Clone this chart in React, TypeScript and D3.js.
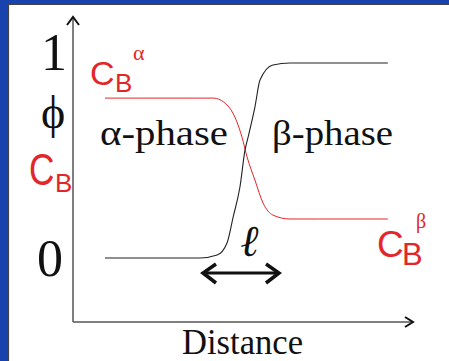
import React from "react";
import * as d3 from "d3";

// phase-field order parameter phi vs distance
const distancePhi = [9.4, 37.4, 42.4, 45.3, 47.1, 49.1, 50.6, 51.5, 53.5, 55.0, 58.8, 63.8, 92.6];
const phiValues = [0, 0, 0.015, 0.077, 0.21, 0.364, 0.554, 0.62, 0.774, 0.913, 0.99, 1, 1];
// concentration of B vs distance
const distanceC = [9.4, 38.2, 41.2, 45.3, 47.6, 49.7, 51.2, 53.5, 55.9, 58.8, 63.8, 72.6, 92.6];
const cBValues = [0.82, 0.82, 0.82, 0.785, 0.723, 0.62, 0.518, 0.4, 0.282, 0.22, 0.2, 0.2, 0.2];
const yTickValues = [1, 0];
const yTickLabels = ["1", "0"];
const xLabel = "Distance";

const W = 449;
const H = 361;
const SERIF = "'Liberation Serif', 'Times New Roman', serif";
const SANS = "'Liberation Sans', Arial, sans-serif";
const RED = "#e3262b";

export default function App() {
  const x = d3.scaleLinear().domain([0, 100]).range([73, 413]);
  const y = d3.scaleLinear().domain([0, 1]).range([258, 63]);
  const line = d3
    .line<[number, number]>()
    .x((d) => x(d[0]))
    .y((d) => y(d[1]))
    .curve(d3.curveMonotoneX);
  const phiPts = distancePhi.map((d, i) => [d, phiValues[i]] as [number, number]);
  const cPts = distanceC.map((d, i) => [d, cBValues[i]] as [number, number]);
  const x0 = x(0);
  const yBottom = 322;
  const xEnd = x(100);
  const yTop = 17;
  const tickOffsets = [7, 18];
  const tickX = [54, 50];

  return (
    <svg
      width={W}
      height={H}
      style={{ position: "absolute", left: 0, top: 0, display: "block" }}
    >
      <rect x={0} y={0} width={W} height={H} fill="#ffffff" />
      {/* blue frame */}
      <rect x={0} y={0} width={8} height={H} fill="#1842ae" />
      <rect x={0} y={0} width={W} height={4} fill="#1842ae" />
      <line x1={8.5} y1={4} x2={8.5} y2={H} stroke="#444" strokeWidth={1.2} />
      <line x1={8} y1={4.5} x2={W} y2={4.5} stroke="#444" strokeWidth={1.2} />

      {/* axes */}
      <line x1={x0} y1={yBottom} x2={x0} y2={yTop} stroke="#555" strokeWidth={1.5} />
      <polyline
        points={`${x0 - 6},${yTop + 8} ${x0},${yTop} ${x0 + 6},${yTop + 8}`}
        fill="none"
        stroke="#111"
        strokeWidth={2}
      />
      <line x1={x0} y1={yBottom} x2={xEnd} y2={yBottom} stroke="#555" strokeWidth={1.5} />
      <polyline
        points={`${xEnd - 8},${yBottom - 5} ${xEnd},${yBottom} ${xEnd - 8},${yBottom + 5}`}
        fill="none"
        stroke="#111"
        strokeWidth={2}
      />

      {/* tick labels */}
      {yTickValues.map((v, i) => (
        <text
          key={i}
          x={tickX[i]}
          y={y(v) + tickOffsets[i]}
          textAnchor="middle"
          fontFamily={SERIF}
          fontSize={52}
          fill="#111"
        >
          {yTickLabels[i]}
        </text>
      ))}

      {/* y labels */}
      <text x={53} y={128} textAnchor="middle" fontFamily={SERIF} fontSize={46} fill="#111">
        ϕ
      </text>
      <g transform="translate(29,185) scale(0.8,1)">
        <text x={0} y={0} fontFamily={SANS} fontSize={44} fill={RED}>
          C
        </text>
      </g>
      <text x={55} y={192} fontFamily={SANS} fontSize={26} fill={RED}>
        B
      </text>

      {/* curves */}
      <path d={line(cPts) ?? ""} fill="none" stroke={RED} strokeWidth={1} />
      <path d={line(phiPts) ?? ""} fill="none" stroke="#222" strokeWidth={1.1} />

      {/* C_B^alpha */}
      <text x={90} y={85} fontFamily={SANS} fontSize={34} fill={RED}>
        C
      </text>
      <text x={115} y={92} fontFamily={SANS} fontSize={26} fill={RED}>
        B
      </text>
      <text x={133} y={60} fontFamily={SERIF} fontSize={22} fill={RED}>
        α
      </text>

      {/* C_B^beta */}
      <text x={377} y={257} fontFamily={SANS} fontSize={37} fill={RED}>
        C
      </text>
      <text x={402} y={265} fontFamily={SANS} fontSize={31} fill={RED}>
        B
      </text>
      <text x={416} y={228} fontFamily={SERIF} fontSize={20} fill={RED}>
        β
      </text>

      {/* phase labels */}
      <text
        x={100}
        y={145}
        fontFamily={SERIF}
        fontSize={36}
        fill="#111"
        textLength={128}
        lengthAdjust="spacingAndGlyphs"
      >
        α-phase
      </text>
      <text
        x={272}
        y={145}
        fontFamily={SERIF}
        fontSize={36}
        fill="#111"
        textLength={121}
        lengthAdjust="spacingAndGlyphs"
      >
        β-phase
      </text>

      {/* interface width */}
      <text
        x={241}
        y={256}
        fontFamily="'DejaVu Serif', 'Liberation Serif', serif"
        fontSize={44}
        fontStyle="italic"
        fontWeight="bold"
        fill="#111"
      >
        ℓ
      </text>
      <line x1={203} y1={273} x2={279} y2={273} stroke="#111" strokeWidth={3} />
      <polyline points="216,264 203,273 216,283" fill="none" stroke="#111" strokeWidth={3.5} />
      <polyline points="266,264 279,273 266,283" fill="none" stroke="#111" strokeWidth={3.5} />

      {/* x label */}
      <text
        x={182}
        y={354}
        fontFamily={SERIF}
        fontSize={35}
        fill="#111"
        textLength={121}
        lengthAdjust="spacingAndGlyphs"
      >
        {xLabel}
      </text>
    </svg>
  );
}
